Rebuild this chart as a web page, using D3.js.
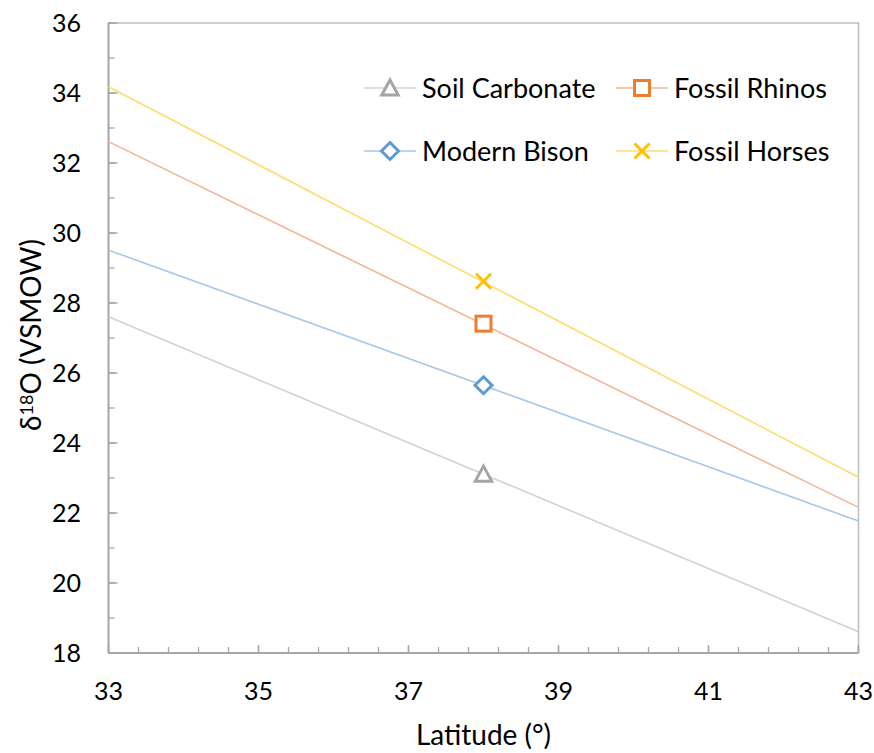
<!DOCTYPE html>
<html>
<head>
<meta charset="utf-8">
<script src="https://cdn.jsdelivr.net/npm/d3@7"></script>
<style>
  html, body { margin: 0; padding: 0; background: #fff; }
  svg { display: block; font-family: Lato, "Open Sans", sans-serif; }
</style>
</head>
<body>
<svg id="chart" width="874" height="753"></svg>
<script>
// Latitude range covered by the fitted trend lines
const lineLatitudes = [33, 43];
// δ18O trend-line values at the two ends of the latitude range
const soilCarbonateLine = [27.61, 18.61];
const modernBisonLine   = [29.51, 21.77];
const fossilRhinosLine  = [32.61, 22.16];
const fossilHorsesLine  = [34.18, 23.02];
// Measured mean δ18O at the sampling latitude
const sampleLatitude = 38;
const sampleValues = [23.11, 25.65, 27.41, 28.62];
const seriesNames = ["Soil Carbonate", "Modern Bison", "Fossil Rhinos", "Fossil Horses"];
// Axis ticks
const xTickValues = [33, 35, 37, 39, 41, 43];
const yTickValues = [18, 20, 22, 24, 26, 28, 30, 32, 34, 36];

const series = [
  { name: seriesNames[0], line: soilCarbonateLine, point: sampleValues[0], marker: "triangle", mark: "#a5a5a5", stroke: "#d2d2d2" },
  { name: seriesNames[1], line: modernBisonLine,   point: sampleValues[1], marker: "diamond",  mark: "#5b9bd5", stroke: "#a5c8ea" },
  { name: seriesNames[2], line: fossilRhinosLine,  point: sampleValues[2], marker: "square",   mark: "#ed7d31", stroke: "#f4b595" },
  { name: seriesNames[3], line: fossilHorsesLine,  point: sampleValues[3], marker: "cross",    mark: "#ffc000", stroke: "#ffdb6e" }
];

const svg = d3.select("#chart");
const margin = { left: 108.5, right: 874 - 858.5, top: 23, bottom: 753 - 653 };
const x = d3.scaleLinear().domain([33, 43]).range([margin.left, 874 - margin.right]);
const y = d3.scaleLinear().domain([18, 36]).range([753 - margin.bottom, margin.top]);

const axisColor = "#a6a6a6";
const tickFont = 25;
const titleFont = 28;
const legendFont = 27;

// Plot-area frame (top and right)
svg.append("path")
  .attr("d", `M${x(33)},${y(36)}H${x(43)}V${y(18)}`)
  .attr("fill", "none").attr("stroke", "#bfbfbf").attr("stroke-width", 1.6);

// Tick marks, pointing into the plot area
const gx = svg.append("g");
gx.selectAll("line.minor").data(d3.range(0, 26).map(i => 33 + i * 0.4)).join("line")
  .attr("x1", d => x(d)).attr("x2", d => x(d))
  .attr("y1", y(18)).attr("y2", y(18) - 6)
  .attr("stroke", axisColor).attr("stroke-width", 1.3);
gx.selectAll("line.major").data(xTickValues).join("line")
  .attr("x1", d => x(d)).attr("x2", d => x(d))
  .attr("y1", y(18)).attr("y2", y(18) - 8)
  .attr("stroke", axisColor).attr("stroke-width", 1.5);

const gy = svg.append("g");
gy.selectAll("line.minor").data(d3.range(18, 36.01, 1)).join("line")
  .attr("x1", x(33)).attr("x2", x(33) + 6)
  .attr("y1", d => y(d)).attr("y2", d => y(d))
  .attr("stroke", axisColor).attr("stroke-width", 1.3);
gy.selectAll("line.major").data(yTickValues).join("line")
  .attr("x1", x(33)).attr("x2", x(33) + 9)
  .attr("y1", d => y(d)).attr("y2", d => y(d))
  .attr("stroke", axisColor).attr("stroke-width", 1.5);

// Axis lines
svg.append("line").attr("x1", x(33)).attr("x2", x(43)).attr("y1", y(18)).attr("y2", y(18))
  .attr("stroke", axisColor).attr("stroke-width", 2);
svg.append("line").attr("x1", x(33)).attr("x2", x(33)).attr("y1", y(18)).attr("y2", y(36))
  .attr("stroke", axisColor).attr("stroke-width", 2);

// Tick labels
svg.append("g").selectAll("text").data(xTickValues).join("text")
  .attr("x", d => x(d)).attr("y", 700)
  .attr("text-anchor", "middle").attr("font-size", tickFont).attr("fill", "#000")
  .text(d => d);
svg.append("g").selectAll("text").data(yTickValues).join("text")
  .attr("x", 81).attr("y", d => y(d)).attr("dy", "0.36em")
  .attr("text-anchor", "end").attr("font-size", tickFont).attr("fill", "#000")
  .text(d => d);

// Axis titles
svg.append("text").attr("x", (x(33) + x(43)) / 2).attr("y", 745)
  .attr("text-anchor", "middle").attr("font-size", titleFont).text("Latitude (°)");
const yTitle = svg.append("text")
  .attr("transform", `translate(41,335) rotate(-90)`)
  .attr("text-anchor", "middle").attr("font-size", titleFont);
yTitle.append("tspan").text("δ");
yTitle.append("tspan").attr("font-size", 18).attr("baseline-shift", "8").text("18");
yTitle.append("tspan").text("O (VSMOW)");

// Trend lines
const lineGen = d3.line().x(d => x(d[0])).y(d => y(d[1]));
svg.append("g").selectAll("path").data(series).join("path")
  .attr("d", s => lineGen(lineLatitudes.map((lat, i) => [lat, s.line[i]])))
  .attr("fill", "none").attr("stroke", s => s.stroke).attr("stroke-width", 1.6);

// Marker shapes
function drawMarker(g, type, color) {
  if (type === "triangle") {
    g.append("path").attr("d", "M0,-8L8.2,7L-8.2,7Z")
      .attr("fill", "#fff").attr("stroke", color).attr("stroke-width", 3).attr("stroke-linejoin", "miter");
  } else if (type === "square") {
    g.append("rect").attr("x", -7.5).attr("y", -7.5).attr("width", 15).attr("height", 15)
      .attr("fill", "#fff").attr("stroke", color).attr("stroke-width", 3);
  } else if (type === "diamond") {
    g.append("path").attr("d", "M0,-8.5L8.5,0L0,8.5L-8.5,0Z")
      .attr("fill", "#fff").attr("stroke", color).attr("stroke-width", 3);
  } else if (type === "cross") {
    g.append("path").attr("d", "M-7.5,-7.5L7.5,7.5M-7.5,7.5L7.5,-7.5")
      .attr("fill", "none").attr("stroke", color).attr("stroke-width", 3);
  }
}

// Sample points
series.forEach(s => {
  const g = svg.append("g").attr("transform", `translate(${x(sampleLatitude)},${y(s.point)})`);
  drawMarker(g, s.marker, s.mark);
});

// Legend
const legendItems = [
  { s: series[0], lx: 364, ly: 88 },
  { s: series[2], lx: 616, ly: 88 },
  { s: series[1], lx: 364, ly: 151 },
  { s: series[3], lx: 616, ly: 151 }
];
legendItems.forEach(item => {
  const g = svg.append("g").attr("transform", `translate(${item.lx},${item.ly})`);
  g.append("line").attr("x1", 0).attr("x2", 52).attr("y1", 0).attr("y2", 0)
    .attr("stroke", item.s.stroke).attr("stroke-width", 1.6);
  drawMarker(g.append("g").attr("transform", "translate(26,0)"), item.s.marker, item.s.mark);
  g.append("text").attr("x", 58).attr("y", 0).attr("dy", "0.36em")
    .attr("font-size", legendFont).attr("fill", "#000").text(item.s.name);
});
</script>
</body>
</html>
